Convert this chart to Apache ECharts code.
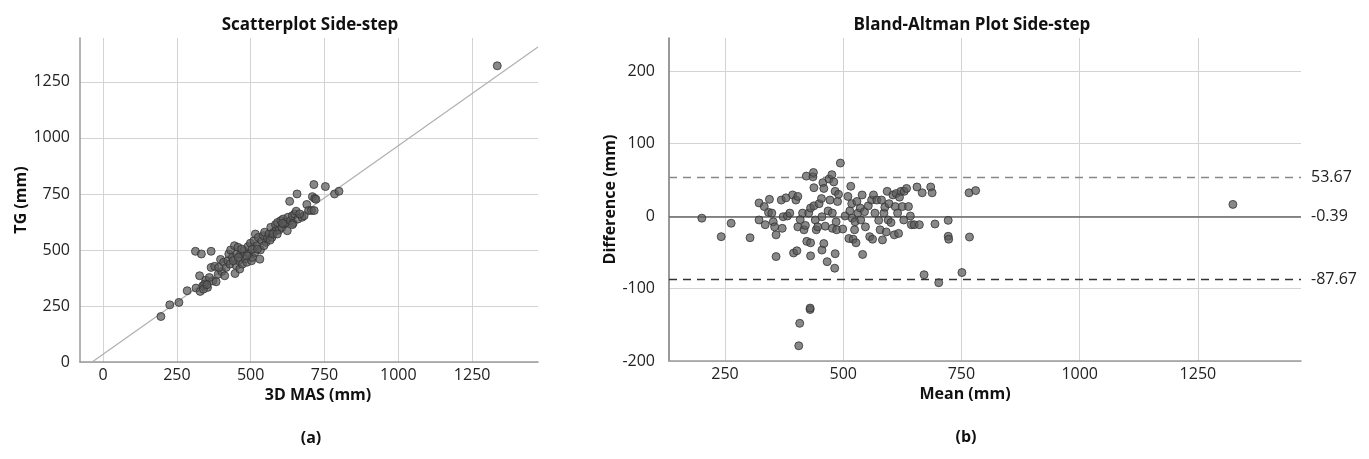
<!DOCTYPE html>
<html>
<head>
<meta charset="utf-8">
<title>Side-step</title>
<script src="https://cdn.jsdelivr.net/npm/echarts@6/dist/echarts.min.js"></script>
<style>
  html, body { margin: 0; padding: 0; background: #fff; }
  #chart { width: 1369px; height: 459px; }
</style>
</head>
<body>
<div id="chart"></div>
<script>
// scatterplot (a): 3D MAS vs TG
const masX = [196, 226, 257, 285, 313, 333, 366, 315, 327, 329, 338, 348, 354, 366, 372, 378, 383, 390,
  398, 402, 408, 412, 417, 423, 426, 430, 432, 438, 445, 447, 451, 453, 457, 460, 463, 466, 472, 477,
  482, 487, 491, 495, 499, 503, 506, 511, 514, 516, 521, 526, 531, 533, 538, 543, 547, 552, 557, 562,
  568, 572, 578, 584, 586, 591, 596, 602, 606, 610, 615, 620, 626, 632, 635, 641, 644, 649, 654, 657,
  660, 674, 681, 690, 696, 706, 709, 714, 715, 717, 721, 753, 784, 799, 1335,
  344, 360, 392, 441, 458, 487, 505, 523, 545, 566, 575, 590, 608, 624, 641, 666, 470, 340, 352];
const tgY = [203, 255, 266, 318, 494, 482, 494, 330, 385, 315, 340, 365, 333, 422, 362, 427, 358, 392,
  458, 404, 445, 385, 422, 452, 482, 437, 500, 467, 519, 395, 430, 482, 512, 452, 415, 482, 437, 497,
  460, 445, 515, 482, 530, 452, 467, 541, 489, 571, 519, 556, 459, 500, 541, 564, 579, 534, 553, 571,
  601, 556, 579, 613, 586, 623, 589, 631, 601, 638, 616, 623, 646, 717, 631, 653, 619, 661, 673, 750,
  638, 646, 653, 703, 676, 676, 738, 792, 676, 730, 726, 783, 750, 762, 1322,
  348, 377, 422, 452, 467, 474, 504, 504, 519, 544, 571, 571, 619, 586, 613, 661, 504, 325, 345];
// fitted line end points
const fitX = [-37, 1473];
const fitY = [0, 1406];

// Bland-Altman (b)
const baMean = [201, 242, 263, 303, 322, 322, 333, 335, 344, 342, 349, 352, 355, 358, 358, 369, 371, 373,
  379, 382, 387, 393, 395, 400, 404, 402, 404, 409, 414, 417, 420, 422, 423, 427, 431, 431, 431, 430,
  436, 437, 438, 438, 441, 443, 446, 449, 454, 455, 455, 457, 459, 459, 462, 466, 468, 470, 472, 476,
  477, 477, 480, 482, 483, 483, 485, 486, 488, 490, 494, 499, 504, 510, 512, 514, 516, 518, 519, 521,
  524, 525, 527, 529, 531, 536, 537, 540, 541, 545, 547, 553, 556, 560, 562, 564, 567, 571, 575, 578,
  581, 583, 586, 588, 591, 593, 595, 597, 601, 605, 608, 610, 612, 615, 617, 619, 622, 625, 628, 629,
  634, 638, 642, 644, 650, 656, 661, 667, 671, 685, 688, 694, 702, 722, 722, 723, 751, 766, 767, 780,
  1324, 406, 408, 430];
const baDiff = [-3, -28.5, -10, -30, 18, -5.5, 13, -12, 23, 5, 4, -8, -15, -26, -56, 22, -17, -1,
  25, 0, 4, 29, -51, 22, 27, -48, -15, -5, 4, -19, -13, 55, -35, 4, 11, -37, -55, -129,
  54, 60, 39, 14, -5.5, -19, -15, 17, 24, -1, -47, 46, 38, -38, -14, -63, 7, 51, 22, 57,
  4, -17, 47, -72, 34, -52, -8, -19, 20, 30, 73, -18, 0, 27, -31, 7, 41, 17, -3, -32,
  -19, -8, -37, 20, 4, 11, -5.5, 29, -53, 6, -15, 14, -28.5, 22, -32, 29, 4, 22, -6, -19,
  22, -33, 4, 12, -22, 34, -5.5, 17, -9, 29, -26, 13, 31, 4, -24, 26, 34, 13, -5.5, 34,
  38, 13, 0, -12, -12, 40, -12, 32, -81, 40, 32, -11, -92, -6, -28, -32, -78, 32, -29, 35,
  16, -179, -148, -127];
const baLimits = [53.67, -0.39, -87.67];

const ticksA = [0, 250, 500, 750, 1000, 1250];
const xTicksB = [250, 500, 750, 1000, 1250];
const yTicksB = [-200, -100, 0, 100, 200];

const FONT = '"Open Sans", "DejaVu Sans", sans-serif';
const gridLine = { show: true, lineStyle: { color: '#d3d3d3', width: 1 } };
const tickLabel = { color: '#222', fontSize: 16, fontFamily: FONT, formatter: v => String(v) };
const nameStyle = { color: '#111', fontSize: 16, fontWeight: 'bold', fontFamily: FONT };
const dotStyle = { color: 'rgba(90,90,90,0.9)', borderColor: '#333', borderWidth: 1 };

const chart = echarts.init(document.getElementById('chart'));

const option = {
  animation: false,
  backgroundColor: '#fff',
  grid: [
    { left: 80, right: 831, top: 38, bottom: 97 },
    { left: 669, right: 68, top: 38, bottom: 98 }
  ],
  xAxis: [
    {
      gridIndex: 0, type: 'value', min: -78, max: 1473,
      name: '3D MAS (mm)', nameLocation: 'middle', nameGap: 24,
      nameTextStyle: Object.assign({ padding: [0, 0, 0, 18] }, nameStyle),
      axisLine: { onZero: false, lineStyle: { color: '#9a9a9a', width: 1.5 } },
      axisTick: { show: false, customValues: ticksA },
      axisLabel: Object.assign({ customValues: ticksA, margin: 5 }, tickLabel),
      splitLine: gridLine
    },
    {
      gridIndex: 1, type: 'value', min: 131.6, max: 1468,
      name: 'Mean (mm)', nameLocation: 'middle', nameGap: 23,
      nameTextStyle: Object.assign({ padding: [0, 40, 0, 0] }, nameStyle),
      axisLine: { onZero: false, lineStyle: { color: '#9a9a9a', width: 1.5 } },
      axisTick: { show: false, customValues: xTicksB },
      axisLabel: Object.assign({ customValues: xTicksB, margin: 5 }, tickLabel),
      splitLine: gridLine
    }
  ],
  yAxis: [
    {
      gridIndex: 0, type: 'value', min: 0, max: 1446,
      name: 'TG (mm)', nameLocation: 'middle', nameGap: 50, nameTextStyle: nameStyle,
      axisLine: { show: true, onZero: false, lineStyle: { color: '#9a9a9a', width: 1.5 } },
      axisTick: { show: false, customValues: ticksA },
      axisLabel: Object.assign({ customValues: ticksA, margin: 10 }, tickLabel),
      splitLine: gridLine
    },
    {
      gridIndex: 1, type: 'value', min: -200, max: 245.5,
      name: 'Difference (mm)', nameLocation: 'middle', nameGap: 40, nameTextStyle: nameStyle,
      axisLine: { show: true, onZero: false, lineStyle: { color: '#777', width: 1.5 } },
      axisTick: { show: false, customValues: yTicksB },
      axisLabel: Object.assign({ customValues: yTicksB, margin: 14 }, tickLabel),
      splitLine: gridLine
    }
  ],
  series: [
    {
      name: 'fit', type: 'line', xAxisIndex: 0, yAxisIndex: 0,
      data: fitX.map((x, i) => [x, fitY[i]]),
      symbol: 'none', silent: true,
      lineStyle: { color: '#b0b0b0', width: 1.2 }, z: 1
    },
    {
      name: 'scatter', type: 'scatter', xAxisIndex: 0, yAxisIndex: 0,
      data: masX.map((x, i) => [x, tgY[i]]),
      symbolSize: 8, itemStyle: dotStyle, z: 3
    },
    {
      name: 'bland-altman', type: 'scatter', xAxisIndex: 1, yAxisIndex: 1,
      data: baMean.map((x, i) => [x, baDiff[i]]),
      symbolSize: 8, itemStyle: dotStyle, z: 3,
      markLine: {
        silent: true, symbol: 'none', z: 2,
        label: {
          show: true, position: 'end', distance: 10, formatter: p => String(p.value),
          color: '#222', fontSize: 16, fontFamily: FONT
        },
        data: [
          { yAxis: baLimits[0], lineStyle: { type: [8, 6], color: '#888', width: 1.3 } },
          { yAxis: baLimits[1], lineStyle: { type: 'solid', color: '#666', width: 1.5 } },
          { yAxis: baLimits[2], lineStyle: { type: [8, 6], color: '#333', width: 1.3 } }
        ]
      }
    }
  ],
  graphic: [
    { type: 'text', x: 310, y: 25, style: { text: 'Scatterplot Side-step', align: 'center', verticalAlign: 'middle', font: 'bold 17px ' + FONT, fill: '#111' } },
    { type: 'text', x: 972, y: 25, style: { text: 'Bland-Altman Plot Side-step', align: 'center', verticalAlign: 'middle', font: 'bold 17px ' + FONT, fill: '#111' } },
    { type: 'text', x: 311, y: 438, style: { text: '(a)', align: 'center', verticalAlign: 'middle', font: 'bold 16px ' + FONT, fill: '#111' } },
    { type: 'text', x: 966, y: 437, style: { text: '(b)', align: 'center', verticalAlign: 'middle', font: 'bold 16px ' + FONT, fill: '#111' } }
  ]
};

chart.setOption(option);
</script>
</body>
</html>
